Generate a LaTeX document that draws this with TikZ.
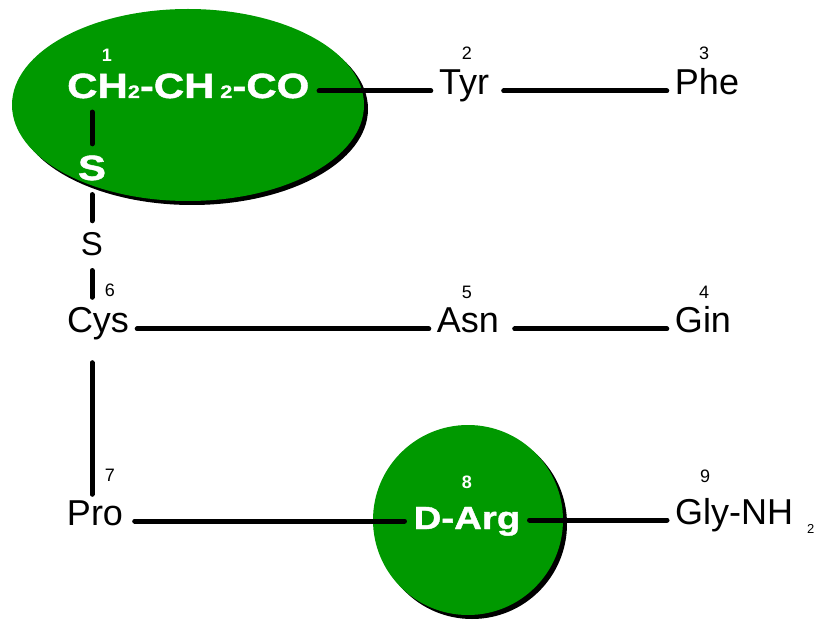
\documentclass[tikz,border=0pt]{standalone}
\usepackage{fontspec}
\setmainfont{Liberation Sans}
\newfontfamily\widesans[FakeStretch=1.2, BoldFeatures={FakeBold=1.2}]{Liberation Sans}
\usetikzlibrary{shapes.geometric,shadows,positioning}
\definecolor{pepgreen}{RGB}{0,153,0}
\tikzset{
  res/.style={font=\fontsize{36}{40}\selectfont, inner xsep=8pt, inner ysep=0pt,
    text height=8pt, text depth=0pt, anchor=base},
  num/.style={font=\fontsize{18}{20}\selectfont, inner sep=0pt},
  wnum/.style={font=\fontsize{18}{20}\selectfont\bfseries, text=white, inner sep=0pt},
  wres/.style={font=\widesans\bfseries\fontsize{35}{40}\selectfont, text=white,
    inner sep=0pt, anchor=base},
  bond/.style={line width=5pt, line cap=round},
  blob/.style={fill=pepgreen, inner sep=0pt,
    drop shadow={shadow xshift=4pt, shadow yshift=-4pt, fill=black, opacity=1}}
}
\newcommand{\smalltwo}{{\fontsize{18}{18}\selectfont 2}}
\begin{document}
\begin{tikzpicture}[x=1pt,y=-1pt]
\useasboundingbox (0,0) rectangle (825,620);
% green rings
\node[blob, ellipse, minimum width=352pt, minimum height=192pt] (ring1) at (188,105) {};
\node[blob, circle, minimum size=190pt] (ring8) at (468,520) {};
% residues
\node[wres, anchor=base west] (chain) at (67,98) {CH\smalltwo-CH\,\smalltwo-CO};
\node[wres] (sw) at (92,180) {S};
\node[font=\fontsize{33}{36}\selectfont, inner sep=0pt, anchor=base] (sb) at (92,256) {S};
\node[res] (tyr) at (464,95) {Tyr};
\node[res] (phe) at (707,95) {Phe};
\node[res] (cys) at (98,333) {Cys};
\node[res] (asn) at (468,333) {Asn};
\node[res] (gin) at (703,333) {Gin};
\node[res] (pro) at (95,525) {Pro};
\node[wres, font=\widesans\bfseries\fontsize{32}{36}\selectfont, inner xsep=9pt] (darg) at (467,529) {D-Arg};
\node[res, anchor=base west] (gly) at (667,524) {Gly-NH\hspace{14pt}\raisebox{-9pt}{\fontsize{13}{13}\selectfont 2}};
% numbers
\node[wnum] (n1) at (107,55) {1};
\node[num] (n2) at (467,53) {2};
\node[num] (n3) at (704,53) {3};
\node[num] (n4) at (704,292) {4};
\node[num] (n5) at (467,292) {5};
\node[num] (n6) at (110,290) {6};
\node[num] (n7) at (110,475) {7};
\node[wnum] (n8) at (467,482) {8};
\node[num] (n9) at (705,476) {9};
% bonds
\draw[bond, shorten <=9.5pt] (chain.east |- tyr) -- (tyr);
\draw[bond, shorten <=6.5pt] (tyr) -- (phe);
\draw[bond] (cys) -- (asn);
\draw[bond, shorten <=7.5pt] (asn) -- (gin);
\draw[bond, shorten <=3.5pt] (pro) -- (pro -| darg.west);
\draw[bond] (gly -| darg.east) -- (gly);
\draw[bond, shorten <=13.5pt, shorten >=11.5pt] (sw |- chain.south) -- (sw.north);
\draw[bond, shorten <=14pt, shorten >=12pt] (sw) -- (sb);
\draw[bond, shorten <=14pt, shorten >=27.5pt] (sb) -- (sb |- cys.north);
\draw[bond, shorten <=29.5pt, shorten >=22.5pt] (sb |- cys.south) -- (sb |- pro.north);
\end{tikzpicture}
\end{document}
